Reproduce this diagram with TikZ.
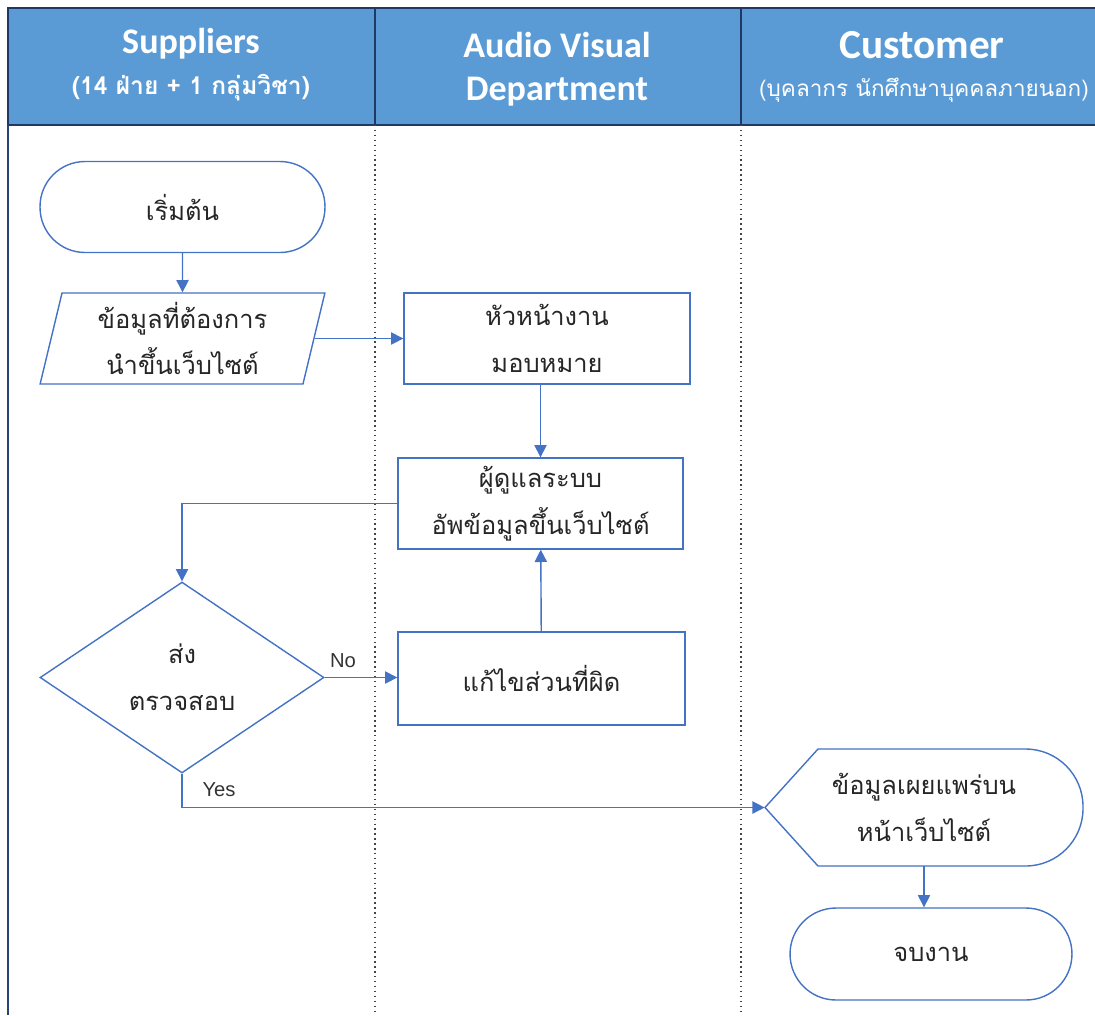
\documentclass[tikz,border=0pt]{standalone}
\usepackage{fontspec}
\setmainfont{Liberation Sans}
\newfontfamily\thaifont[Script=Thai]{Loma}
\newfontfamily\headfont{Carlito}
\usetikzlibrary{shapes.geometric,arrows.meta}
\definecolor{flowblue}{HTML}{4472C4}
\definecolor{headblue}{HTML}{5B9BD5}
\definecolor{headline}{HTML}{203864}
\definecolor{laneline}{HTML}{444444}

\begin{document}
\begin{tikzpicture}[x=0.02cm, y=-0.02cm,
        shape line/.style={draw=flowblue, line width=0.8pt},
        body text/.style={align=center, text=black!85, font=\thaifont\fontsize{14.5}{26.6}\selectfont},
        box/.style={shape line, body text, rectangle, minimum width=5.72cm, minimum height=1.82cm},
        terminal/.style={shape line, body text, rectangle, rounded corners=0.9cm, minimum width=5.7cm, minimum height=1.82cm},
        inputbox/.style={shape line, body text, trapezium, trapezium left angle=79, trapezium right angle=101,
            trapezium stretches=true, minimum width=5.7cm, minimum height=1.82cm},
        decision/.style={shape line, body text, diamond, minimum width=5.68cm, minimum height=3.82cm, inner sep=0pt},
        flow/.style={draw=flowblue, line width=0.8pt, -{Triangle[length=7pt, width=7pt]}},
        headtitle/.style={text=white, font=\headfont\bfseries\fontsize{20.5}{24.5}\selectfont, align=center},
        headsub/.style={text=white, font=\thaifont\bfseries\fontsize{14}{16}\selectfont},
        tag/.style={font=\fontsize{11.5}{14}\selectfont, text=black!80}
    ]
        \useasboundingbox (0,0) rectangle (1095,1015);

        % lane header
        \fill[headblue] (8,8) rectangle (1095,125);
        \draw[headline, line width=1pt] (1095,8) -- (8,8) -- (8,125) -- (1095,125);
        \draw[headline, line width=1pt] (375,8) -- (375,125);
        \draw[headline, line width=1pt] (741,8) -- (741,125);

        % lane borders
        \draw[headline!80!flowblue, line width=1.2pt] (8,125) -- (8,1015);
        \draw[laneline, dotted, line width=0.8pt] (375,125) -- (375,1015);
        \draw[laneline, dotted, line width=0.8pt] (741,125) -- (741,1015);

        \node[headtitle] (supT) at (191,44) {Suppliers};
        \node[headsub] (supS) at (191,88) {(14 ฝ่าย + 1 กลุ่มวิชา)};
        \node[headtitle] (avT) at (557,69) {Audio Visual\\Department};
        \node[headtitle, font=\headfont\bfseries\fontsize{23.5}{26}\selectfont] (cusT) at (922,45) {Customer};
        \node[headsub, font=\thaifont\fontsize{12.8}{16}\selectfont] (cusS) at (924,90) {(บุคลากร นักศึกษาบุคคลภายนอก)};

        % steps
        \node[terminal] (start) at (182.5,207) {เริ่มต้น};
        \node[inputbox] (need) at (182.5,338.5) {ข้อมูลที่ต้องการ\\นำขึ้นเว็บไซต์};
        \node[box] (assign) at (547,338.5) {หัวหน้างาน\\มอบหมาย};
        \node[box, minimum width=5.7cm] (upload) at (540.5,503.5) {ผู้ดูแลระบบ\\อัพข้อมูลขึ้นเว็บไซต์};
        \node[decision] (check) at (182,677.5) {ส่ง\\ตรวจสอบ};
        \node[box, minimum width=5.74cm, minimum height=1.86cm] (fix) at (541.5,678.5) {แก้ไขส่วนที่ผิด};
        \node[body text, minimum width=6.36cm, minimum height=2.34cm] (publish) at (924,807.5) {ข้อมูลเผยแพร่บน\\หน้าเว็บไซต์};
        \draw[shape line] (765,807.5) -- (818,749) {[rounded corners=1.15cm] -- (1083,749) -- (1083,866)} -- (818,866) -- cycle;
        \node[terminal, minimum width=5.64cm, minimum height=1.84cm, rounded corners=0.92cm] (finish) at (931,954) {จบงาน};

        % connectors
        \draw[flow] (start) -- (need);
        \draw[flow] (need.east) -- (assign.west |- need.east);
        \draw[flow] (upload.north |- assign.south) -- (upload.north);
        \draw[flow] (upload.west) -| (check.north);
        \draw[flow] (fix) -- (upload);
        \draw[flow] (check.east) -- (fix.west |- check.east);
        \draw[flow] (check.south) |- (publish.west);
        \draw[flow] (publish.south) -- (publish.south |- finish.north);

        \node[tag] (no) at (343,661) {No};
        \node[tag] (yes) at (219,790) {Yes};
    \end{tikzpicture}
\end{document}
